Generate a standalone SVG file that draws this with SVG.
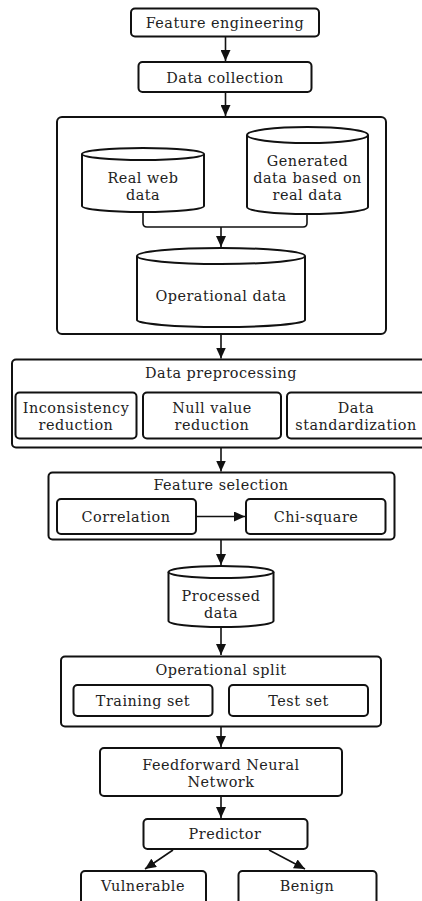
<svg xmlns="http://www.w3.org/2000/svg" width="422" height="901" viewBox="0 0 422 901">
<defs>
<marker id="arr" markerUnits="userSpaceOnUse" markerWidth="11" markerHeight="10" refX="11" refY="5" orient="auto">
<path d="M0,0 L11,5 L0,10 Z" fill="#111"/>
</marker>
<style>
.b{fill:#fff;stroke:#111;stroke-width:2}
.c{fill:#fff;stroke:#111;stroke-width:2}
.t{font-family:"DejaVu Serif","Liberation Serif",serif;font-size:14.4px;letter-spacing:0.5px;fill:#222;text-anchor:middle}
.e{fill:none;stroke:#111;stroke-width:1.6;marker-end:url(#arr)}
.l{fill:none;stroke:#111;stroke-width:1.6}
</style>
</defs>
<rect width="422" height="901" fill="#fff"/>

<g id="feature-engineering">
<rect class="b" x="131" y="8.5" width="188" height="28" rx="4"/>
<text class="t" x="225" y="28">Feature engineering</text>
</g>
<g id="data-collection">
<rect class="b" x="138.5" y="62" width="173" height="30" rx="4"/>
<text class="t" x="225" y="82.5">Data collection</text>
</g>
<g id="data-container">
<rect class="b" x="57" y="117" width="329" height="217" rx="5"/>
</g>
<g id="real-web-data">
<path class="c" d="M82,154 L82,206 A61,6 0 0 0 204,206 L204,154"/>
<ellipse class="c" cx="143" cy="154" rx="61" ry="6"/>
<text class="t" x="143" y="183">Real web</text>
<text class="t" x="143" y="200">data</text>
</g>
<g id="generated-data">
<path class="c" d="M247,135 L247,207 A60.5,7 0 0 0 368,207 L368,135"/>
<ellipse class="c" cx="307.5" cy="135" rx="60.5" ry="8"/>
<text class="t" x="307.5" y="166">Generated</text>
<text class="t" x="307.5" y="183">data based on</text>
<text class="t" x="307.5" y="200">real data</text>
</g>
<g id="operational-data">
<path class="c" d="M137,256 L137,320 A84,7 0 0 0 305,320 L305,256"/>
<ellipse class="c" cx="221" cy="256" rx="84" ry="8"/>
<text class="t" x="221" y="300.5">Operational data</text>
</g>

<g id="data-preprocessing">
<rect class="b" x="12" y="359.5" width="425" height="88" rx="4"/>
<text class="t" x="221" y="378">Data preprocessing</text>
</g>
<g id="inconsistency-reduction">
<rect class="b" x="15.5" y="392.5" width="121" height="46" rx="4"/>
<text class="t" x="76" y="413">Inconsistency</text>
<text class="t" x="76" y="430">reduction</text>
</g>
<g id="null-value-reduction">
<rect class="b" x="143" y="392.5" width="138" height="46" rx="4"/>
<text class="t" x="212" y="413">Null value</text>
<text class="t" x="212" y="430">reduction</text>
</g>
<g id="data-standardization">
<rect class="b" x="287" y="392.5" width="140" height="46" rx="4"/>
<text class="t" x="356" y="413">Data</text>
<text class="t" x="356" y="430">standardization</text>
</g>

<g id="feature-selection">
<rect class="b" x="48.5" y="472.5" width="346" height="67" rx="4"/>
<text class="t" x="221" y="489.5">Feature selection</text>
</g>
<g id="correlation">
<rect class="b" x="57" y="499" width="139" height="35" rx="4"/>
<text class="t" x="126" y="521.5">Correlation</text>
</g>
<g id="chi-square">
<rect class="b" x="246" y="499" width="139.5" height="35" rx="4"/>
<text class="t" x="316" y="521.5">Chi-square</text>
</g>

<g id="processed-data">
<path class="c" d="M168.5,572 L168.5,621 A52.5,6 0 0 0 273.5,621 L273.5,572"/>
<ellipse class="c" cx="221" cy="572" rx="52.5" ry="6"/>
<text class="t" x="221" y="600.5">Processed</text>
<text class="t" x="221" y="617.5">data</text>
</g>

<g id="operational-split">
<rect class="b" x="61" y="656.5" width="320" height="70" rx="4"/>
<text class="t" x="221" y="674.5">Operational split</text>
</g>
<g id="training-set">
<rect class="b" x="73.5" y="685" width="139" height="31" rx="4"/>
<text class="t" x="143" y="706">Training set</text>
</g>
<g id="test-set">
<rect class="b" x="229" y="685" width="139" height="31" rx="4"/>
<text class="t" x="298.5" y="706">Test set</text>
</g>

<g id="ffnn">
<rect class="b" x="100" y="748" width="242" height="48" rx="4"/>
<text class="t" x="221" y="770">Feedforward Neural</text>
<text class="t" x="221" y="787">Network</text>
</g>
<g id="predictor">
<rect class="b" x="143.5" y="819" width="164" height="30" rx="4"/>
<text class="t" x="225" y="839">Predictor</text>
</g>
<g id="vulnerable">
<rect class="b" x="81" y="871" width="125" height="40" rx="4"/>
<text class="t" x="143" y="891">Vulnerable</text>
</g>
<g id="benign">
<rect class="b" x="238.5" y="871" width="138" height="40" rx="4"/>
<text class="t" x="307" y="891">Benign</text>
</g>

<g id="connectors">
<path class="e" d="M225.5,37 L225.5,61"/>
<path class="e" d="M225.5,92 L225.5,116"/>
<path class="l" d="M143,212 L143,223 Q143,227 147,227 L303,227 Q307,227 307,223 L307,214"/>
<path class="e" d="M221,227 L221,247"/>
<path class="e" d="M221,334 L221,358.5"/>
<path class="e" d="M221,448 L221,471.5"/>
<path class="e" d="M196,516.5 L245,516.5"/>
<path class="e" d="M221,540 L221,565"/>
<path class="e" d="M221,627 L221,655"/>
<path class="e" d="M221,727 L221,747"/>
<path class="e" d="M221,796 L221,818"/>
<path class="e" d="M173,850 L145,869"/>
<path class="e" d="M269,850 L305,869"/>
</g>
</svg>
